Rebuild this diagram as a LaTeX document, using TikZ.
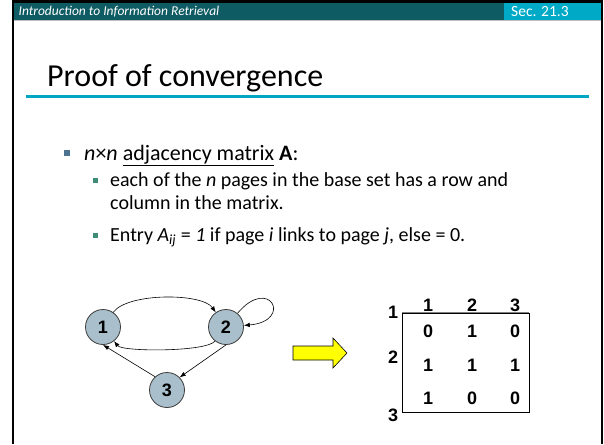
\documentclass[tikz,border=0pt]{standalone}
\usepackage{fontspec}
\setmainfont{Carlito}
\newfontfamily\arialfont{Liberation Sans}
\usepackage{tikz}
\usetikzlibrary{arrows.meta,positioning}
\definecolor{HeaderDark}{HTML}{0E5B63}
\definecolor{HeaderCyan}{HTML}{00AAC6}
\definecolor{RuleCyan}{HTML}{00A6C2}
\definecolor{NodeFill}{HTML}{A9BFCB}
\definecolor{NodeLine}{HTML}{3C3C3C}
\definecolor{BulletSlate}{HTML}{4E7391}
\definecolor{BulletGreen}{HTML}{3D8C76}
\definecolor{ArrowYellow}{HTML}{FFFF00}

\tikzset{
  pagenode/.style={circle, fill=NodeFill, draw=NodeLine, line width=0.8pt,
    minimum size=35pt, inner sep=0pt,
    font=\arialfont\bfseries\fontsize{18}{18}\selectfont},
  cell/.style={inner sep=0pt, font=\arialfont\bfseries\fontsize{18}{18}\selectfont},
  link/.style={->, line width=0.6pt},
  bodytext/.style={anchor=base west, inner sep=0pt},
  bulletsq/.style={rectangle, inner sep=0pt, minimum size=#1},
}

\begin{document}
\begin{tikzpicture}[x=1pt,y=-1pt,>={Latex[length=6pt,width=4.5pt]}]
  \useasboundingbox (0,0) rectangle (604,444);
  \fill[white] (0,0) rectangle (604,444);
  % slide frame and header bar
  \fill[black] (12,0) rectangle (603,3.5);
  \fill[HeaderDark] (14,3.5) rectangle (504,20);
  \fill[HeaderCyan] (504,3.5) rectangle (601,20);
  \draw[black!25, line width=1pt] (14,20.5) -- (601,20.5);
  \draw[black, line width=2pt] (13,0) -- (13,444);
  \draw[black, line width=2pt] (602,0) -- (602,444);
  \node[anchor=west, inner sep=0pt, text=white,
        font=\itshape\fontsize{13.5}{13.5}\selectfont] (course) at (18.5,12) {Introduction to Information Retrieval};
  \node[anchor=west, inner sep=0pt, text=white,
        font=\fontsize{15.5}{15.5}\selectfont] (sec) at (511,12) {Sec. 21.3};

  % title
  \node[bodytext, font=\fontsize{32}{32}\selectfont] (title) at (47,86) {Proof of convergence};
  \draw[RuleCyan, line width=2.5pt] (26,96.5) -- (589,96.5);

  % bullets
  \node[bulletsq=6.5pt, fill=BulletSlate] (b1) at (67,153) {};
  \node[bodytext, font=\fontsize{22}{22}\selectfont] (item) at (84,160)
    {\textit{n}×\textit{n} \underline{adjacency matrix} \textbf{A}:};
  \node[bulletsq=5pt, fill=BulletGreen] (b2) at (95.5,180) {};
  \node[bodytext, font=\fontsize{20}{20}\selectfont] (sub1) at (110,186)
    {each of the \textit{n} pages in the base set has a row and};
  \node[bodytext, font=\fontsize{20}{20}\selectfont] (sub1b) at (110,209)
    {column in the matrix.};
  \node[bulletsq=5pt, fill=BulletGreen] (b3) at (95.5,235) {};
  \node[bodytext, font=\fontsize{20}{20}\selectfont] (sub2) at (110,241)
    {Entry \textit{A}\textsubscript{\textit{ij}} = \textit{1} if page \textit{i} links to page \textit{j}, else = 0.};

  % link graph
  \node[pagenode] (p1) at (103,327) {1};
  \node[pagenode] (p2) at (226,327) {2};
  \node[pagenode] (p3) at (167,390) {3};
  \draw[link] (p1) to[out=55,in=125,looseness=0.6] (p2);
  \draw[link] (p2) to[out=-128,in=-52,looseness=0.35] (p1);
  \draw[link] (p2) to[out=50,in=5,min distance=50pt] (p2);
  \draw[link] (p3.132) -- (p1.south);
  \draw[link] (p2.south) -- (p3.45);

  % yellow block arrow
  \filldraw[fill=ArrowYellow, draw=black, line width=0.6pt]
    (293,346) -- (333,346) -- (333,338) -- (347,353) -- (333,368) -- (333,360) -- (293,360) -- cycle;

  % adjacency matrix
  \node[draw, line width=0.8pt, minimum width=127pt, minimum height=99pt, inner sep=0pt] (adj) at (465.5,362.5) {};
  \draw[gray, line width=0.8pt] (adj.north west) -- (adj.north east);
  \foreach \j/\x in {1/428,2/472,3/515}
    \node[cell] (col\j) at (\x,305) {\j};
  \foreach \i/\y in {1/312,2/357,3/415}
    \node[cell] (row\i) at (393,\y) {\i};
  \foreach \i/\y/\a/\b/\c in {1/331/0/1/0, 2/365/1/1/1, 3/398/1/0/0} {
    \node[cell] (m\i1) at (428,\y) {\a};
    \node[cell] (m\i2) at (472,\y) {\b};
    \node[cell] (m\i3) at (515,\y) {\c};
  }
\end{tikzpicture}
\end{document}
